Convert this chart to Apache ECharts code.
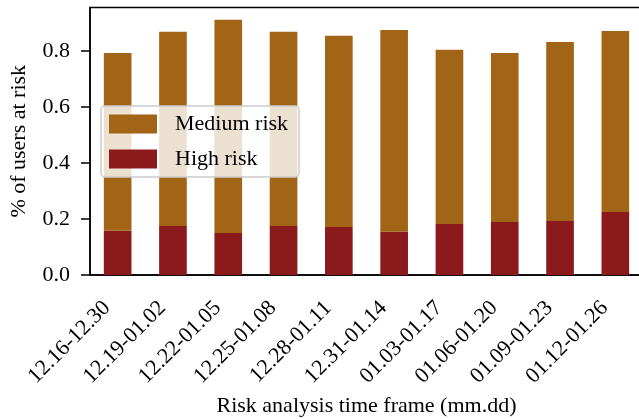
<!DOCTYPE html>
<html>
<head>
<meta charset="utf-8">
<script src="https://cdn.jsdelivr.net/npm/echarts@6/dist/echarts.min.js"></script>
<style>html,body{margin:0;padding:0;background:#fff;}#chart{width:639px;height:419px;}</style>
</head>
<body>
<div id="chart"></div>
<script>
const categories = ['12.16-12.30','12.19-01.02','12.22-01.05','12.25-01.08','12.28-01.11','12.31-01.14','01.03-01.17','01.06-01.20','01.09-01.23','01.12-01.26'];
const highRisk = [0.158,0.175,0.150,0.175,0.171,0.154,0.182,0.189,0.193,0.225];
const mediumRisk = [0.635,0.693,0.761,0.693,0.683,0.721,0.622,0.604,0.639,0.646];
const yTicks = [0, 0.2, 0.4, 0.6, 0.8];

const FONT = 'Liberation Serif';
const chart = echarts.init(document.getElementById('chart'), null, {renderer:'canvas'});
chart.setOption({
  animation: false,
  textStyle: {fontFamily: FONT, color: '#000'},
  grid: {left: 90, top: 7.5, width: 553, height: 267.5, show: true, borderColor: '#000', borderWidth: 1.5, backgroundColor: 'transparent', outerBoundsMode: 'none', containLabel: false},
  legend: {
    orient: 'vertical', left: 101, top: 106,
    data: ['Medium risk', 'High risk'],
    icon: 'rect',
    itemWidth: 48, itemHeight: 19, itemGap: 13,
    padding: [7, 11, 7, 8],
    backgroundColor: 'rgba(255,255,255,0.8)',
    borderColor: '#cccccc', borderWidth: 1.5, borderRadius: 4,
    textStyle: {fontFamily: FONT, fontSize: 22, color: '#000', padding: [0,0,0,13]}
  },
  xAxis: {
    type: 'category', data: categories,
    name: 'Risk analysis time frame (mm.dd)', nameLocation: 'middle', nameGap: 120,
    nameTextStyle: {fontFamily: FONT, fontSize: 22, color: '#000'},
    axisLine: {lineStyle: {color: '#000', width: 1.5}},
    axisTick: {alignWithLabel: true, length: 9, lineStyle: {color: '#000', width: 1.5}},
    axisLabel: {rotate: 45, interval: 0, margin: 19, padding: [0, 15, 0, 0], fontFamily: FONT, fontSize: 22, color: '#000'}
  },
  yAxis: {
    type: 'value', min: 0, max: 0.955, interval: 0.2,
    name: '% of users at risk', nameLocation: 'middle', nameGap: 60,
    nameTextStyle: {fontFamily: FONT, fontSize: 22, color: '#000'},
    splitLine: {show: false},
    axisLine: {show: true, lineStyle: {color: '#000', width: 1.5}},
    axisTick: {show: true, length: 9, customValues: yTicks, lineStyle: {color: '#000', width: 1.5}},
    axisLabel: {customValues: yTicks, margin: 20, fontFamily: FONT, fontSize: 22, color: '#000', formatter: v => v.toFixed(1)}
  },
  series: [
    {name: 'High risk', type: 'bar', stack: 'r', data: highRisk, barWidth: '50%', itemStyle: {color: '#8B1A1C'}},
    {name: 'Medium risk', type: 'bar', stack: 'r', data: mediumRisk, barWidth: '50%', itemStyle: {color: '#A26518'}}
  ]
});
</script>
</body>
</html>
